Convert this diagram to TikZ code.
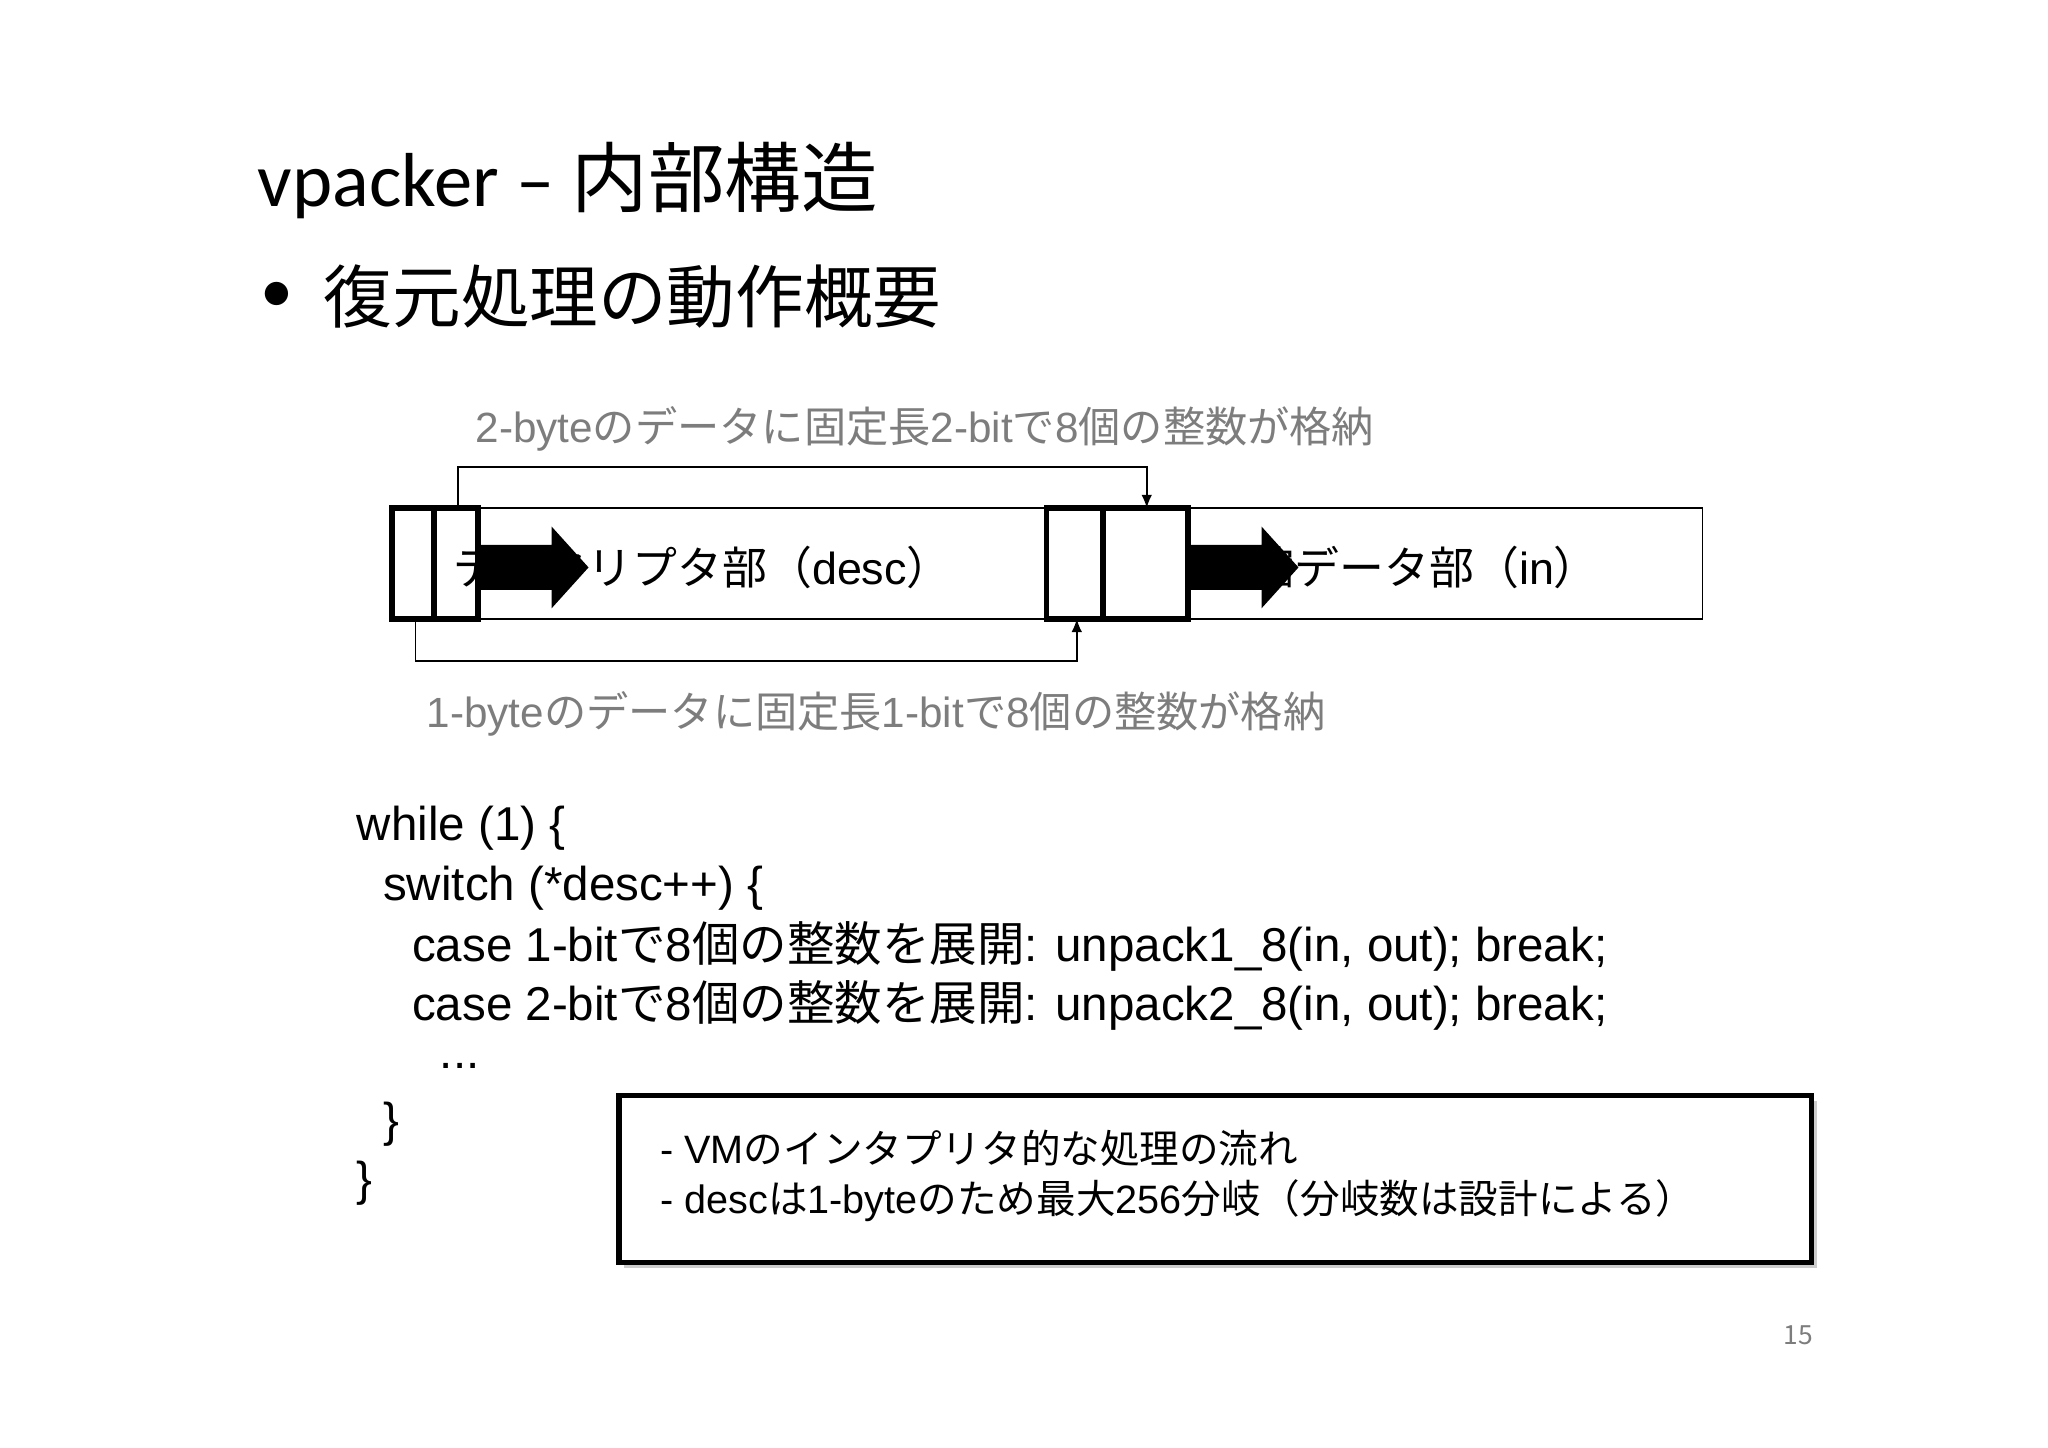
\documentclass[tikz,border=0pt]{standalone}
\usepackage{fontspec}
\usetikzlibrary{arrows.meta,shadows}
\setmainfont{Liberation Sans}
\newfontfamily\jp{Noto Sans CJK JP}
\newfontfamily\calfont{Carlito}
\definecolor{lblgray}{RGB}{125,125,125}
\begin{document}
\begin{tikzpicture}[x=0.5pt,y=-0.5pt,
  lbl/.style={text=lblgray,font=\fontsize{16}{18}\selectfont,anchor=west,inner sep=0},
  code/.style={font=\fontsize{18}{20}\selectfont,anchor=west,inner sep=0},
  thin/.style={draw,line width=0.6pt,outer sep=0},
  thick/.style={draw,line width=2.2pt,outer sep=0},
  conn/.style={line width=0.6pt,-{Latex[length=5pt,width=4pt]}}]
\path[use as bounding box,fill=white] (0,0) rectangle (1552,1097);
\node[anchor=west,inner sep=0,font=\fontsize{29}{32}\selectfont] (title) at (195,137) {\calfont vpacker – {\jp 内部構造}};
\node[anchor=west,inner sep=0,font=\fontsize{25}{28}\selectfont] (bul) at (197,225) {\calfont •};
\node[anchor=west,inner sep=0,font=\fontsize{26}{28}\selectfont] (sub) at (245,225) {\jp 復元処理の動作概要};
\node[lbl] (top) at (360,325) {2-byte{\jp のデータに固定長}2-bit{\jp で}8{\jp 個の整数が格納}};
\node[lbl] (bot) at (323,541) {1-byte{\jp のデータに固定長}1-bit{\jp で}8{\jp 個の整数が格納}};
\node[thin,minimum width=496.5pt,minimum height=42pt,anchor=north west,inner sep=0] (bar) at (297,385) {};
\node[anchor=west,inner sep=0,font=\fontsize{17}{20}\selectfont] (t1) at (343,430) {{\jp デスクリプタ部（}desc{\jp ）}};
\node[anchor=east,inner sep=0,font=\fontsize{17}{20}\selectfont] (t2) at (1212,430) {{\jp 圧縮データ部（}in{\jp ）}};
\node[thick,minimum width=16pt,minimum height=42pt,anchor=north west,inner sep=0] (b1) at (297,385) {};
\node[thick,minimum width=16.5pt,minimum height=42pt,anchor=north west,inner sep=0] (b2) at (329,385) {};
\node[thick,minimum width=21.5pt,minimum height=42pt,anchor=north west,inner sep=0] (b3) at (793,385) {};
\node[thick,minimum width=32pt,minimum height=42pt,anchor=north west,inner sep=0] (b4) at (836,385) {};
\fill (363,413) -- (418,413) -- (418,399) -- (446,430) -- (418,461) -- (418,447) -- (363,447) -- cycle;
\fill (901,413) -- (956,413) -- (956,399) -- (984,430) -- (956,461) -- (956,447) -- (901,447) -- cycle;
\coordinate (c1) at (347,354);
\coordinate (c2) at (869,354);
\draw[conn] (b2.north west -| c1) -- (c1) -- (c2) -- (b4.north west -| c2);
\coordinate (c3) at (315,501);
\coordinate (c4) at (816,501);
\draw[conn] (b1.south west -| c3) -- (c3) -- (c4) -- (b3.south west -| c4);
\node[code] (l1) at (270,628) {while (1) \{};
\node[code] (l2) at (290,673) {switch (*desc++) \{};
\node[code] (l3) at (312,717) {case 1-bit{\jp で}8{\jp 個の整数を展開}: unpack1\_8(in, out); break;};
\node[code] (l4) at (312,762) {case 2-bit{\jp で}8{\jp 個の整数を展開}: unpack2\_8(in, out); break;};
\node[code] (l5) at (333,808) {...};
\node[code] (l6) at (290,852) {\}};
\node[code] (l7) at (270,897) {\}};
\node[draw,line width=2pt,minimum width=452pt,minimum height=63.5pt,anchor=north west,inner sep=0,fill=white,
  drop shadow={shadow xshift=2pt,shadow yshift=-2pt,opacity=0.4}] (note) at (467,828) {};
\node[anchor=west,inner sep=0,font=\fontsize{15}{18}\selectfont] (n1) at (500,870) {- VM{\jp のインタプリタ的な処理の流れ}};
\node[anchor=west,inner sep=0,font=\fontsize{15}{18}\selectfont] (n2) at (500,910) {- desc{\jp は}1-byte{\jp のため最大}256{\jp 分岐（分岐数は設計による）}};
\node[anchor=center,inner sep=0,text=lblgray,font=\fontsize{10}{12}\selectfont] (pg) at (1363,1012) {\jp 15};
\end{tikzpicture}
\end{document}
